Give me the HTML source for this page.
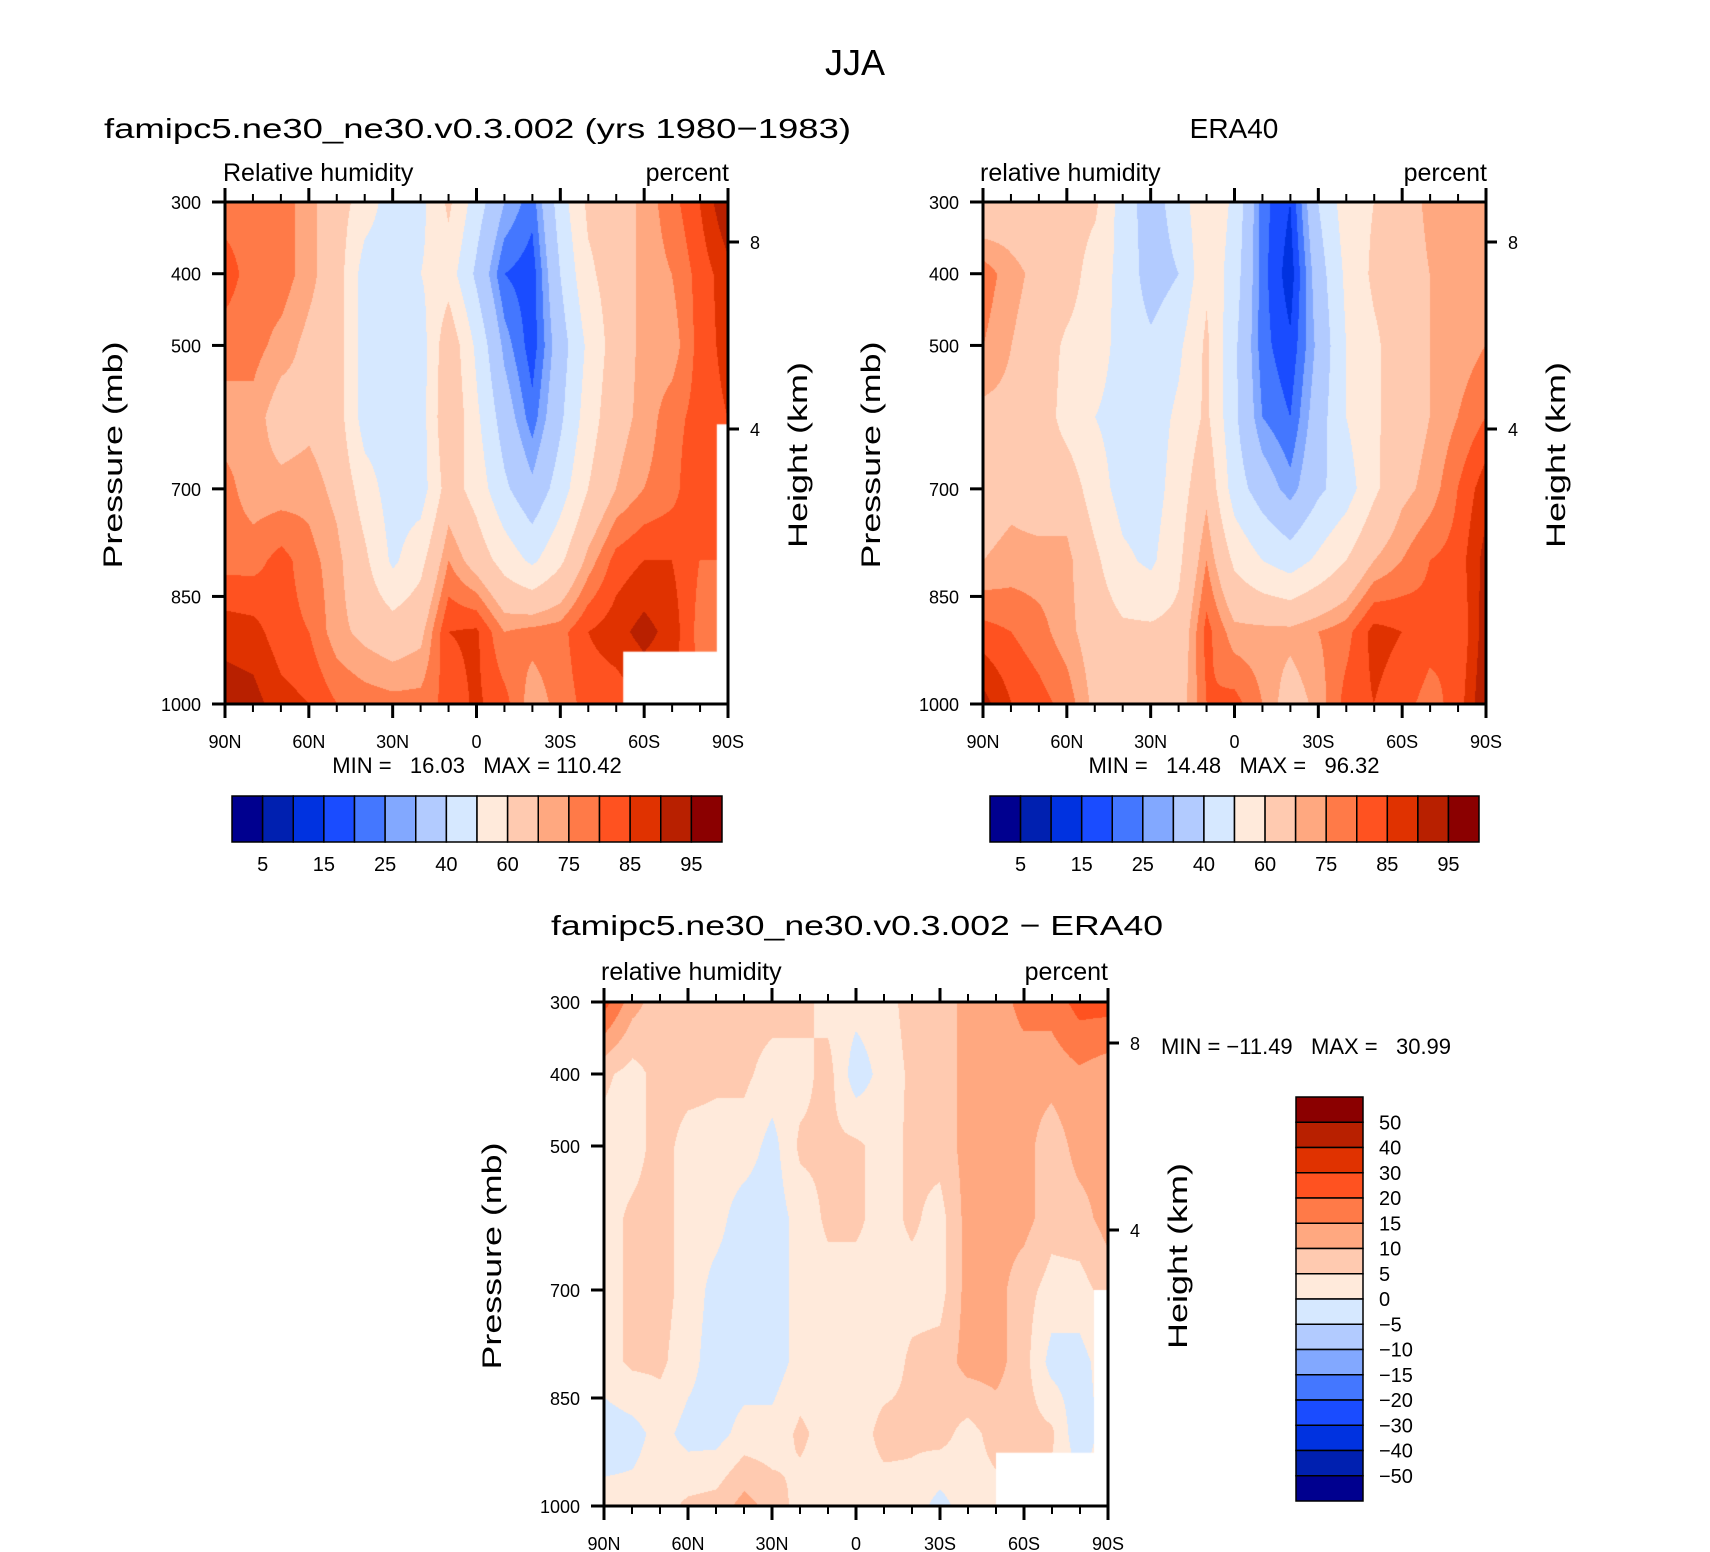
<!DOCTYPE html>
<html><head><meta charset="utf-8">
<style>
html,body{margin:0;padding:0;background:#fff;}
#wrap{position:relative;width:1710px;height:1552px;overflow:hidden;font-family:"Liberation Sans",sans-serif;}
canvas{position:absolute;}
svg{position:absolute;left:0;top:0;}
text{font-family:"Liberation Sans",sans-serif;fill:#000;}
</style></head>
<body>
<div id="wrap">
<canvas id="cA" width="503" height="502" style="left:225px;top:202px"></canvas>
<canvas id="cB" width="503" height="502" style="left:983px;top:202px"></canvas>
<canvas id="cC" width="504" height="504" style="left:604px;top:1002px"></canvas>
<svg id="ov" width="1710" height="1552">
<text x="855" y="75" font-size="36" text-anchor="middle">JJA</text>
<text x="104" y="138" font-size="28" textLength="747" lengthAdjust="spacingAndGlyphs">famipc5.ne30_ne30.v0.3.002 (yrs 1980−1983)</text>
<text x="223" y="181" font-size="25">Relative humidity</text>
<text x="729" y="181" font-size="25" text-anchor="end">percent</text>
<text x="1234" y="138" font-size="28" text-anchor="middle">ERA40</text>
<text x="980" y="181" font-size="25">relative humidity</text>
<text x="1487" y="181" font-size="25" text-anchor="end">percent</text>
<text x="857" y="935" font-size="28" text-anchor="middle" textLength="612" lengthAdjust="spacingAndGlyphs">famipc5.ne30_ne30.v0.3.002 − ERA40</text>
<text x="601" y="980" font-size="25">relative humidity</text>
<text x="1108" y="980" font-size="25" text-anchor="end">percent</text>
<text x="477" y="773" font-size="22" text-anchor="middle" xml:space="preserve">MIN =   16.03   MAX = 110.42</text>
<text x="1234" y="773" font-size="22" text-anchor="middle" xml:space="preserve">MIN =   14.48   MAX =   96.32</text>
<text x="1161" y="1054" font-size="22" xml:space="preserve">MIN = −11.49   MAX =   30.99</text>
</svg>
</div>
<script>
// ---------- data ----------
const lats = ["90N","80N","70N","60N","50N","40N","30N","20N","10N","0","10S","20S","30S","40S","50S","60S","70S","80S","90S"];
const pLevels = [300,400,500,600,700,800,900,1000];
const xTickLabels = ["90N","60N","30N","0","30S","60S","90S"];
const yTickLabels = [300,400,500,700,850,1000];
const kmTicks = [8,4];
const rhLevels = [5,10,15,20,25,30,40,50,60,70,75,80,85,90,95];
const diffLevels = [-50,-40,-30,-20,-15,-10,-5,0,5,10,15,20,30,40,50];
const colors = ["#00008f","#0020b0","#0032e0","#1a4cff","#4477ff","#82a8ff","#b2cbff","#d6e8ff","#ffeadb","#ffcab0","#ffa880","#ff7a48","#ff5220","#e03200","#b82000","#8b0000"];
const modelRH = [
[78,78,78,72,65,55,45,47,62,45,30,22,45,62,65,72,78,85,95],
[82,78,78,72,65,45,45,50,55,38,20,17,40,58,65,72,75,82,88],
[78,77,73,68,65,45,45,45,68,48,28,17,35,52,65,72,72,82,87],
[72,73,66,68,65,45,45,45,70,52,35,22,38,55,67,72,78,82,85],
[77,72,72,73,68,55,45,45,65,56,42,32,45,60,70,75,78,85,85],
[78,78,82,77,72,62,48,57,75,66,56,48,58,72,82,85,85,80,80],
[88,87,82,80,72,68,65,68,85,86,75,77,78,85,88,92,88,78,78],
[93,92,87,85,80,78,77,77,82,86,82,72,77,82,82,85,85,80,80]];
const eraRH = [
[62,65,65,65,62,45,35,45,58,48,22,15,40,55,60,65,72,72,75],
[78,72,68,65,55,47,35,40,58,45,22,12,35,52,62,65,70,72,75],
[75,70,66,58,55,46,42,48,62,42,22,16,32,50,58,66,70,72,75],
[68,68,66,56,50,46,45,52,62,42,25,20,35,50,58,66,70,75,80],
[66,68,66,66,55,46,45,55,68,45,35,27,38,45,58,68,72,80,88],
[70,72,72,72,62,52,48,58,75,58,50,45,52,60,70,75,80,82,92],
[82,80,77,72,66,62,62,63,82,72,72,72,75,78,87,85,82,80,93],
[92,85,82,78,68,66,62,66,80,82,75,66,72,82,85,82,78,82,95]];
const diffRH = [
[22,12,7,7,7,7,7,7,3,2,3,7,7,12,12,17,17,22,22],
[6,3,7,7,6,6,3,3,7,-3,2,6,7,12,12,12,12,14,12],
[3,3,7,3,3,3,-2,6,6,6,3,6,7,12,12,12,7,12,12],
[3,6,7,3,2,-3,-3,2,6,6,3,6,3,12,12,12,7,8,12],
[3,6,7,3,-2,-3,-3,2,3,3,3,3,3,12,12,7,3,3,7],
[3,6,6,2,-3,-3,-3,2,2,2,2,6,7,12,12,7,-2,-2,3],
[-3,-2,2,-2,-2,2,2,6,3,2,7,6,7,3,7,7,6,-4,3],
[2,2,3,6,7,12,8,3,3,3,2,3,-2,3,3,3,3,3,3]];
// missing-data masks: [latFrom(deg, +N), latTo, pFrom, pTo]
const maskA = [[-52.5,-90,927,1000],[-86,-90,610,1000]];
const maskC = [[-50,-90,926,1000],[-85,-90,700,1000]];

// ---------- drawing ----------
const NS="http://www.w3.org/2000/svg";
const ov=document.getElementById('ov');
function mk(tag,attrs){const e=document.createElementNS(NS,tag);for(const k in attrs)e.setAttribute(k,attrs[k]);ov.appendChild(e);return e;}

function drawField(id,grid,lv,masks){
  const c=document.getElementById(id),ctx=c.getContext('2d');
  const W=c.width,H=c.height,nx=grid[0].length-1,ny=grid.length-1;
  const img=ctx.createImageData(W,H);
  const rgb=colors.map(h=>[parseInt(h.slice(1,3),16),parseInt(h.slice(3,5),16),parseInt(h.slice(5,7),16)]);
  for(let y=0;y<H;y++){
    const fy=y/(H-1)*ny,j=Math.min(Math.floor(fy),ny-1),ty=fy-j;
    for(let x=0;x<W;x++){
      const fx=x/(W-1)*nx,i=Math.min(Math.floor(fx),nx-1),tx=fx-i;
      const v=(grid[j][i]*(1-tx)+grid[j][i+1]*tx)*(1-ty)+(grid[j+1][i]*(1-tx)+grid[j+1][i+1]*tx)*ty;
      let k=0;while(k<lv.length&&v>=lv[k])k++;
      const o=(y*W+x)*4;img.data[o]=rgb[k][0];img.data[o+1]=rgb[k][1];img.data[o+2]=rgb[k][2];img.data[o+3]=255;
    }
  }
  ctx.putImageData(img,0,0);
  ctx.fillStyle='#fff';
  (masks||[]).forEach(m=>{
    const x0=(90-m[0])/180*W,x1=(90-m[1])/180*W,y0=(m[2]-300)/700*H,y1=(m[3]-300)/700*H;
    ctx.fillRect(x0,y0,x1-x0,y1-y0);
  });
}
drawField('cA',modelRH,rhLevels,maskA);
drawField('cB',eraRH,rhLevels,null);
drawField('cC',diffRH,diffLevels,maskC);

function axes(L,T,R,B,km8,km4,prefix){
  const w=R-L,h=B-T;
  const fr=mk('rect',{x:L,y:T,width:w,height:h,fill:'none',stroke:'#000','stroke-width':3});
  
  
  for(let d=0;d<=180;d+=10){
    const x=L+d/180*w,maj=d%30===0,len=maj?14:8;
    const tb=mk('line',{x1:x,y1:B,x2:x,y2:B+len,stroke:'#000','stroke-width':maj?3:2});
    
    
    const tt=mk('line',{x1:x,y1:T,x2:x,y2:T-len,stroke:'#000','stroke-width':maj?3:2});
    
    
  }
  xTickLabels.forEach((s,i)=>{
    const t=mk('text',{x:L+i*30/180*w,y:B+44,'font-size':18,'text-anchor':'middle'});
    t.textContent=s;
    
    
  });
  yTickLabels.forEach(p=>{
    const y=T+(p-300)/700*h;
    const tk=mk('line',{x1:L-13,y1:y,x2:L,y2:y,stroke:'#000','stroke-width':3});
    
    
    const t=mk('text',{x:L-24,y:y+7,'font-size':18,'text-anchor':'end'});
    t.textContent=p;
    
    
  });
  [km8,km4].forEach((y,i)=>{
    const tk=mk('line',{x1:R,y1:y,x2:R+11,y2:y,stroke:'#000','stroke-width':3});
    
    
    const t=mk('text',{x:R+22,y:y+7,'font-size':18});
    t.textContent=kmTicks[i];
    
    
  });
  const cy=(T+B)/2+2;
  const yt=mk('text',{x:0,y:0,'font-size':27,'text-anchor':'middle',transform:`translate(${L-103},${cy}) rotate(-90)`,textLength:227,lengthAdjust:'spacingAndGlyphs'});
  yt.textContent='Pressure (mb)';
  
  
  const ht=mk('text',{x:0,y:0,'font-size':27,'text-anchor':'middle',transform:`translate(${R+79},${cy}) rotate(-90)`,textLength:186,lengthAdjust:'spacingAndGlyphs'});
  ht.textContent='Height (km)';
  
  
}
axes(225,202,728,704,242,429,'model');
axes(983,202,1486,704,242,429,'era40');
axes(604,1002,1108,1506,1043,1230,'diff');

function hBar(L,top,W,H,prefix){
  const bw=W/colors.length;
  colors.forEach((c,i)=>{
    const r=mk('rect',{x:L+i*bw,y:top,width:bw,height:H,fill:c,stroke:'#000','stroke-width':1.5});
    
    
  });
  rhLevels.forEach((v,i)=>{
    if(i%2!==0)return;
    const t=mk('text',{x:L+(i+1)*bw,y:top+H+29,'font-size':20,'text-anchor':'middle'});
    t.textContent=v;
    
    
  });
}
hBar(232,796,490,46,'model');
hBar(990,796,489,46,'era40');

(function vBar(){
  const L=1296,T=1097,W=67,H=404,bh=H/colors.length;
  colors.slice().reverse().forEach((c,i)=>{
    const r=mk('rect',{x:L,y:T+i*bh,width:W,height:bh,fill:c,stroke:'#000','stroke-width':1.5});
    
    
  });
  diffLevels.slice().reverse().forEach((v,i)=>{
    const t=mk('text',{x:L+83,y:T+(i+1)*bh+7,'font-size':20});
    t.textContent=String(v).replace('-','−');
    
    
  });
})();
</script>
</body></html>
